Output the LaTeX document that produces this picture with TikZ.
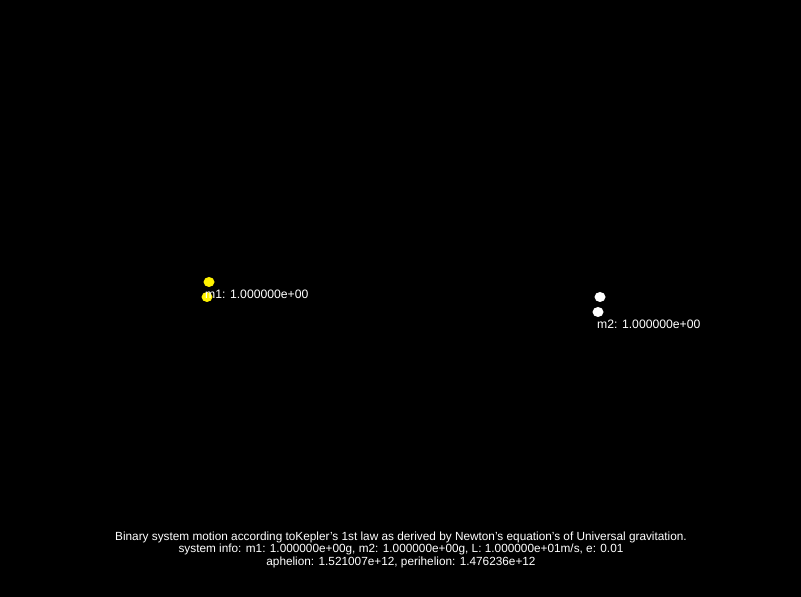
\documentclass[tikz,border=0pt]{standalone}
\usepackage{fontspec}
\setmainfont{Liberation Sans}
\begin{document}
\begin{tikzpicture}[x=1pt,y=1pt,
  lbl/.style={text=white,font=\fontsize{11.8}{13}\selectfont,inner sep=0pt},
  mlbl/.style={text=white,font=\fontsize{12.2}{13}\selectfont,inner sep=0pt,anchor=west},
  ybody/.style={fill=yellow,draw=none},
  wbody/.style={fill=white,draw=none}]
\fill[black] (0,0) rectangle (801,597);
\useasboundingbox (0,0) rectangle (801,597);
% bodies
\fill[ybody] (209,597-282) ellipse [x radius=5.5, y radius=5];
\fill[ybody] (207,597-297) ellipse [x radius=5.5, y radius=5];
\fill[wbody] (600,597-297) ellipse [x radius=5.5, y radius=5];
\fill[wbody] (598,597-312) ellipse [x radius=5.5, y radius=5];
\node[mlbl] (m1) at (205,597-294) {m1: 1.000000e+00};
\node[mlbl] (m2) at (597,597-324) {m2: 1.000000e+00};
\node[lbl] (t1) at (401,597-537) {Binary system motion according toKepler's 1st law as derived by Newton's equation's of Universal gravitation.};
\node[lbl] (t2) at (401,597-549.5) {system info: m1: 1.000000e+00g, m2: 1.000000e+00g, L: 1.000000e+01m/s, e: 0.01};
\node[lbl] (t3) at (401,597-562) {aphelion: 1.521007e+12, perihelion: 1.476236e+12};
\end{tikzpicture}
\end{document}
